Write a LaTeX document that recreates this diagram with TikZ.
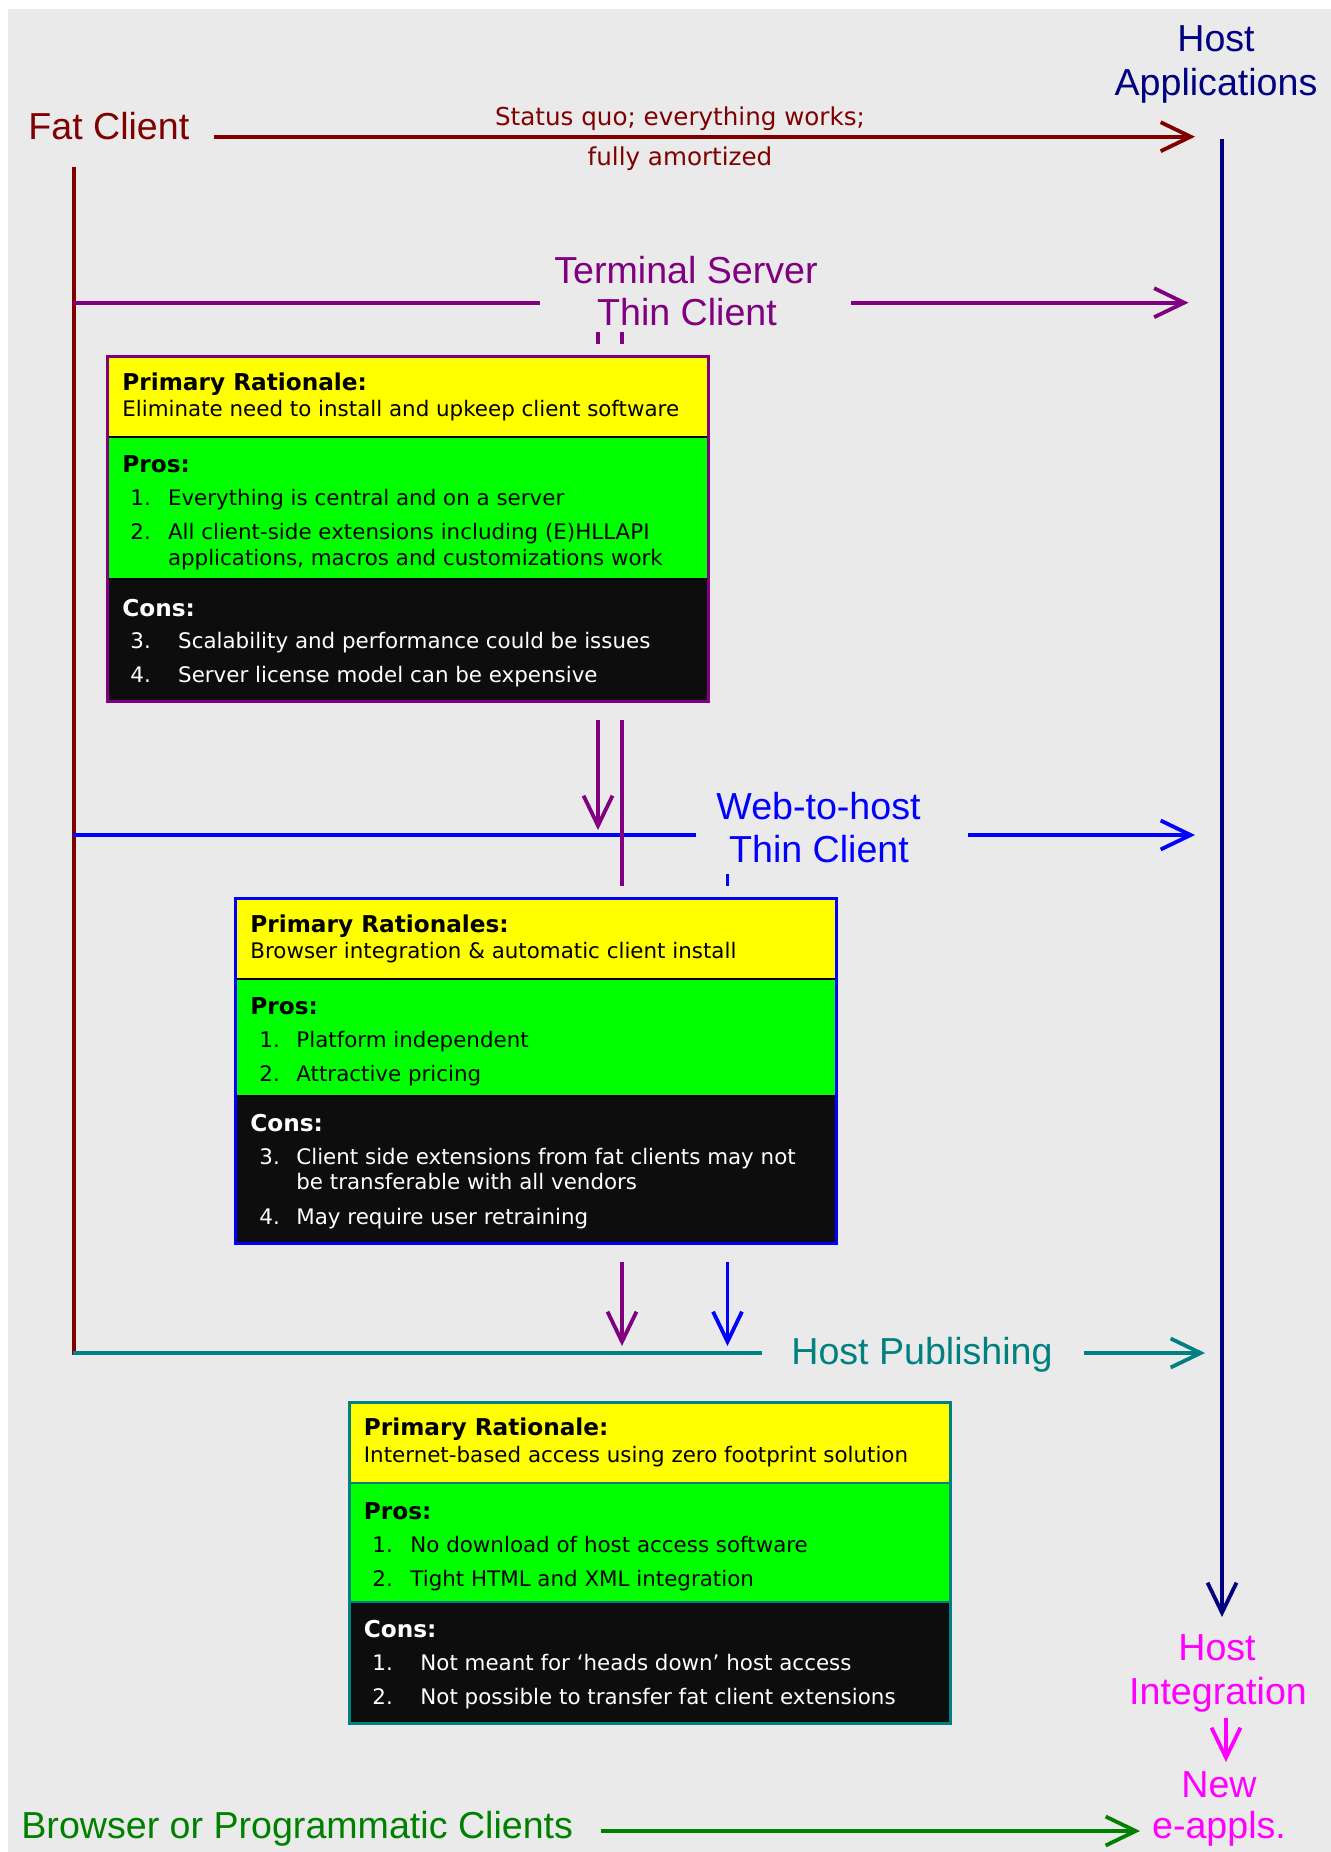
\documentclass[tikz,border=0pt]{standalone}
\usepackage{fontspec}
\usetikzlibrary{arrows.meta}
\newfontfamily\arialf{Liberation Sans}
\newfontfamily\dvf{DejaVu Sans}
\definecolor{dred}{HTML}{800000}
\definecolor{navyc}{HTML}{000080}
\definecolor{purp}{HTML}{800080}
\definecolor{bluec}{HTML}{0000FF}
\definecolor{tealc}{HTML}{008080}
\definecolor{magc}{HTML}{FF00FF}
\definecolor{grnc}{HTML}{008000}
\definecolor{yel}{HTML}{FFFF00}
\definecolor{grn}{HTML}{00FF00}
\definecolor{blk}{HTML}{0D0D0D}
\definecolor{bgc}{HTML}{EAEAEA}
\tikzset{
  lbl/.style={inner sep=0pt, anchor=base, font=\arialf\fontsize{18.8}{21}\selectfont},
  sq/.style={inner sep=0pt, anchor=base, text=dred, font=\dvf\fontsize{12.3}{15}\selectfont},
  txt/.style={inner sep=0pt, anchor=base west, font=\dvf\fontsize{10.7}{13}\selectfont},
  hdr/.style={inner sep=0pt, anchor=base west, font=\dvf\bfseries\fontsize{11.6}{14}\selectfont},
  conn/.style={line width=1.9pt},
  arr/.style={conn, -{Straight Barb[length=15pt,width=14.5pt]}},
  frame/.style={draw, line width=1.5pt, inner sep=0pt, outer sep=0pt, rectangle},
  divl/.style={line width=1pt}
}
\begin{document}
\begin{tikzpicture}[x=0.5pt,y=-0.5pt]
\useasboundingbox (0,0) rectangle (1331,1852);
\fill[white] (0,0) rectangle (1331,1852);
\fill[bgc] (8,9) rectangle (1331,1852);

% ---------- labels ----------
\node[lbl, anchor=base west, text=dred] (fat) at (28,139.3) {Fat Client};
\node[lbl, text=navyc] (hosta1) at (1216,51.7) {Host};
\node[lbl, text=navyc] (hosta2) at (1216,95) {Applications};
\node[sq] (sq1) at (680,125) {Status quo; everything works;};
\node[sq] (sq2) at (680,165) {fully amortized};
\node[lbl, text=purp] (ts1) at (686,283) {Terminal Server};
\node[lbl, text=purp] (ts2) at (687,325) {Thin Client};
\node[lbl, text=bluec] (wh1) at (818.5,819.6) {Web-to-host};
\node[lbl, text=bluec] (wh2) at (819,862.5) {Thin Client};
\node[lbl, text=tealc] (hp) at (922,1364) {Host Publishing};
\node[lbl, text=magc] (hi1) at (1217,1660) {Host};
\node[lbl, text=magc] (hi2) at (1218,1704) {Integration};
\node[lbl, text=magc] (na1) at (1219,1797) {New};
\node[lbl, text=magc] (na2) at (1219,1838) {e-appls.};
\node[lbl, anchor=base west, text=grnc] (br) at (21,1838) {Browser or Programmatic Clients};

% ---------- coordinates ----------
\coordinate (fatA) at (214,136.7);   \coordinate (fatB) at (1195,136.7);
\coordinate (redT) at (74,167);      \coordinate (redB) at (74,1355);
\coordinate (navT) at (1222,139);    \coordinate (navB) at (1222,1617);
\coordinate (puA) at (73,302.7);     \coordinate (puB) at (540,302.7);
\coordinate (puC) at (851,302.7);    \coordinate (puD) at (1188.5,302.7);
\coordinate (blA) at (73,835);       \coordinate (blB) at (696,835);
\coordinate (blC) at (968,835);      \coordinate (blD) at (1195,835);
\coordinate (teA) at (73,1353);      \coordinate (teB) at (762,1353);
\coordinate (teC) at (1084,1353);    \coordinate (teD) at (1205,1353);
\coordinate (mgA) at (1226,1718);    \coordinate (mgB) at (1226,1762);
\coordinate (gnA) at (601,1831);     \coordinate (gnB) at (1140,1831);
% purple / blue verticals
\coordinate (pl1) at (598,332);  \coordinate (pl2) at (598,344);
\coordinate (pl3) at (598,720);  \coordinate (pl4) at (598,830);
\coordinate (pr1) at (622,332);  \coordinate (pr2) at (622,344);
\coordinate (pr3) at (622,720);  \coordinate (pr4) at (622,886);
\coordinate (pr5) at (622,1262); \coordinate (pr6) at (622,1346);
\coordinate (bv1) at (727.5,874); \coordinate (bv2) at (727.5,886);
\coordinate (bv3) at (727.5,1262); \coordinate (bv4) at (727.5,1346);

% ---------- connectors ----------
\draw[arr, dred] (fatA) -- (fatB);
\draw[conn, dred] (redT) -- (redB);
\draw[arr, navyc] (navT) -- (navB);
\draw[conn, purp] (puA) -- (puB);
\draw[arr, purp] (puC) -- (puD);
\draw[conn, bluec] (blA) -- (blB);
\draw[arr, bluec] (blC) -- (blD);
\draw[conn, tealc] (teA) -- (teB);
\draw[arr, tealc] (teC) -- (teD);
\draw[arr, magc] (mgA) -- (mgB);
\draw[arr, grnc] (gnA) -- (gnB);
\draw[conn, purp] (pl1) -- (pl2);
\draw[arr, purp] (pl3) -- (pl4);
\draw[conn, purp] (pr1) -- (pr2);
\draw[conn, purp] (pr3) -- (pr4);
\draw[arr, purp] (pr5) -- (pr6);
\draw[conn, bluec] (bv1) -- (bv2);
\draw[arr, bluec] (bv3) -- (bv4);

% ---------- box 1 ----------
\fill[yel] (107,356) rectangle (708,437);
\fill[grn] (107,437) rectangle (708,579);
\fill[blk] (107,579) rectangle (708,701);
\draw[divl, black] (107,437) -- (708,437) (107,579) -- (708,579);
\node[frame, draw=purp, minimum width=300.5pt, minimum height=172.5pt] (b1) at (407.5,528.5) {};
\node[hdr] (b1h1) at (122,390) {Primary Rationale:};
\node[txt] (b1t1) at (122,416) {Eliminate need to install and upkeep client software};
\node[hdr] (b1h2) at (122,472.7) {Pros:};
\node[txt] (b1n1) at (130,505.7) {1.};
\node[txt] (b1i1) at (167.6,505.7) {Everything is central and on a server};
\node[txt] (b1n2) at (130,539) {2.};
\node[txt] (b1i2) at (167.6,539) {All client-side extensions including (E)HLLAPI};
\node[txt] (b1i2b) at (167.6,565) {applications, macros and customizations work};
\node[hdr, text=white] (b1h3) at (122,616) {Cons:};
\node[txt, text=white] (b1n3) at (130,648) {3.};
\node[txt, text=white] (b1i3) at (177.8,648) {Scalability and performance could be issues};
\node[txt, text=white] (b1n4) at (130,682) {4.};
\node[txt, text=white] (b1i4) at (177.8,682) {Server license model can be expensive};

% ---------- box 2 ----------
\fill[yel] (235,898) rectangle (836,979);
\fill[grn] (235,979) rectangle (836,1096);
\fill[blk] (235,1096) rectangle (836,1243);
\draw[divl, black] (235,979) -- (836,979) (235,1096) -- (836,1096);
\node[frame, draw=bluec, minimum width=300.5pt, minimum height=172.5pt] (b2) at (535.5,1070.5) {};
\node[hdr] (b2h1) at (250,932) {Primary Rationales:};
\node[txt] (b2t1) at (250,958) {Browser integration \& automatic client install};
\node[hdr] (b2h2) at (250,1014) {Pros:};
\node[txt] (b2n1) at (259,1047) {1.};
\node[txt] (b2i1) at (296,1047) {Platform independent};
\node[txt] (b2n2) at (259,1081) {2.};
\node[txt] (b2i2) at (296,1081) {Attractive pricing};
\node[hdr, text=white] (b2h3) at (250,1131) {Cons:};
\node[txt, text=white] (b2n3) at (259,1164) {3.};
\node[txt, text=white] (b2i3) at (296,1164) {Client side extensions from fat clients may not};
\node[txt, text=white] (b2i3b) at (296,1189) {be transferable with all vendors};
\node[txt, text=white] (b2n4) at (259,1224) {4.};
\node[txt, text=white] (b2i4) at (296,1224) {May require user retraining};

% ---------- box 3 ----------
\fill[yel] (349,1402) rectangle (950,1483);
\fill[grn] (349,1483) rectangle (950,1602);
\fill[blk] (349,1602) rectangle (950,1723);
\draw[divl, tealc] (349,1483) -- (950,1483) (349,1602) -- (950,1602);
\node[frame, draw=tealc, minimum width=300.5pt, minimum height=160.5pt] (b3) at (649.5,1562.5) {};
\node[hdr] (b3h1) at (363.5,1435) {Primary Rationale:};
\node[txt] (b3t1) at (363.5,1462) {Internet-based access using zero footprint solution};
\node[hdr] (b3h2) at (363.5,1519) {Pros:};
\node[txt] (b3n1) at (372,1552) {1.};
\node[txt] (b3i1) at (410,1552) {No download of host access software};
\node[txt] (b3n2) at (372,1586) {2.};
\node[txt] (b3i2) at (410,1586) {Tight HTML and XML integration};
\node[hdr, text=white] (b3h3) at (363.5,1637) {Cons:};
\node[txt, text=white] (b3n3) at (372,1670) {1.};
\node[txt, text=white] (b3i3) at (420,1670) {Not meant for ‘heads down’ host access};
\node[txt, text=white] (b3n4) at (372,1704) {2.};
\node[txt, text=white] (b3i4) at (420,1704) {Not possible to transfer fat client extensions};
\end{tikzpicture}
\end{document}
